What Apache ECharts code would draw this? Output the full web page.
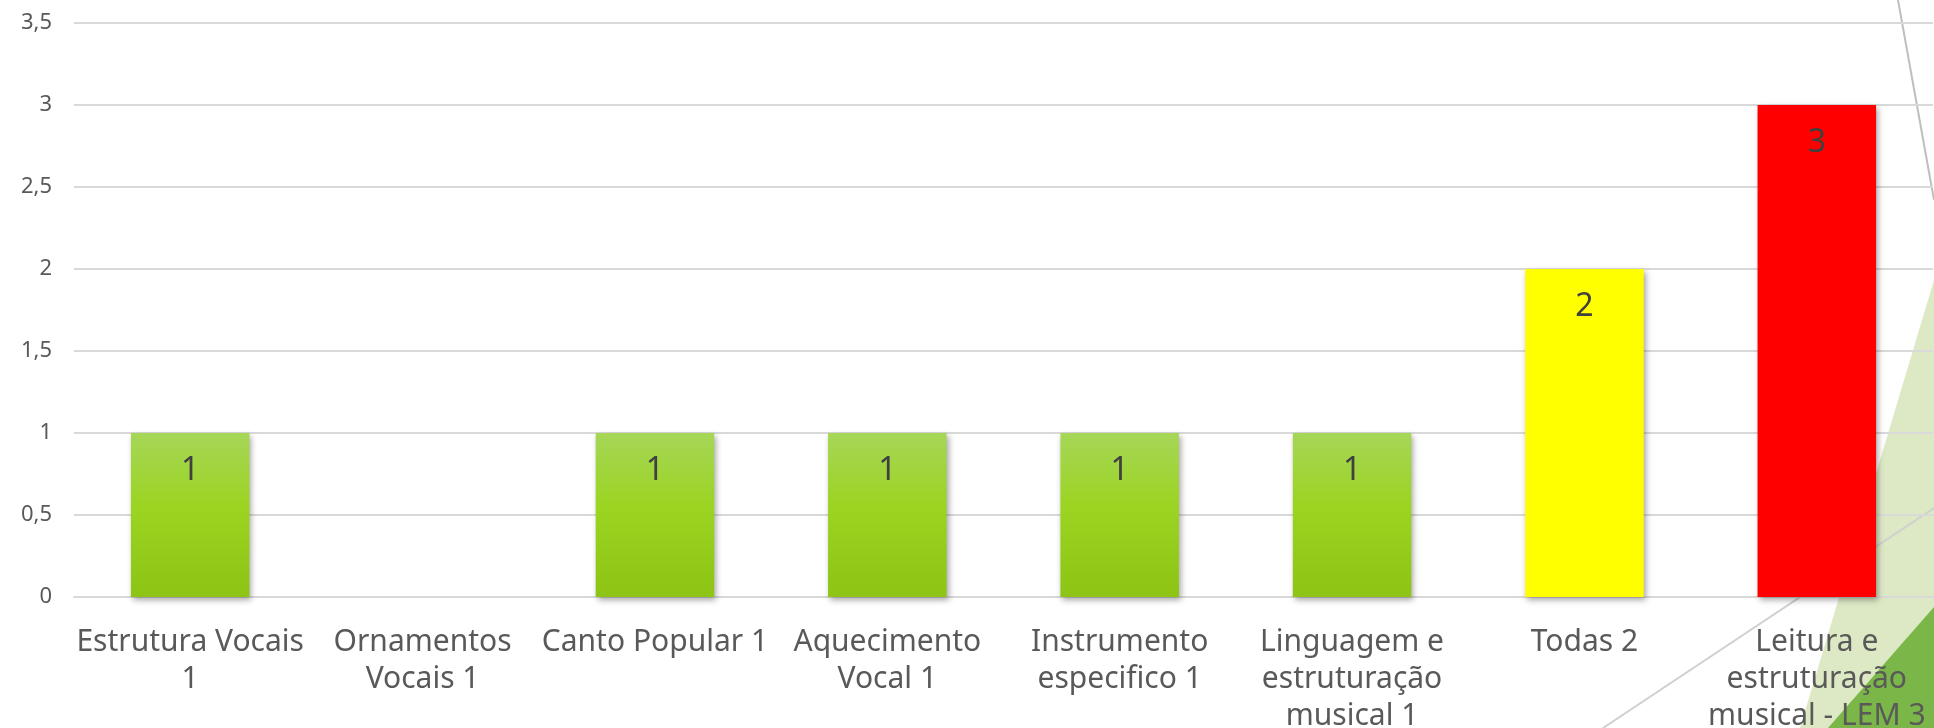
<!DOCTYPE html>
<html>
<head>
<meta charset="utf-8">
<script src="https://cdn.jsdelivr.net/npm/echarts@6/dist/echarts.min.js"></script>
<style>
  html, body { margin: 0; padding: 0; background: #fff; }
  #chart { width: 1934px; height: 728px; }
</style>
</head>
<body>
<div id="chart"></div>
<script>
// categories (line breaks as in the original slide)
const categories = [
  'Estrutura Vocais\n1',
  'Ornamentos\nVocais 1',
  'Canto Popular 1',
  'Aquecimento\nVocal 1',
  'Instrumento\nespecifico 1',
  'Linguagem e\nestruturação\nmusical 1',
  'Todas 2',
  'Leitura e\nestruturação\nmusical - LEM 3'
]
const values = [1, 0, 1, 1, 1, 1, 2, 3]

// y axis ticks
const yMin = 0
const yMax = 3.5
const yStep = 0.5

const font = 'Noto Sans'
const textGray = '#595959'
const gridGray = '#d9d9d9'

const greenFill = new echarts.graphic.LinearGradient(0, 0, 0, 1, [
  { offset: 0, color: '#a6d658' },
  { offset: 0.45, color: '#9bd421' },
  { offset: 1, color: '#8dc415' }
])
// fill per bar: green for most, yellow / red for the last two
const barFills = [greenFill, greenFill, greenFill, greenFill, greenFill, greenFill, '#ffff00', '#ff0000']

const chart = echarts.init(document.getElementById('chart'), null, { renderer: 'canvas' })

chart.setOption({
  animation: false,
  backgroundColor: '#ffffff',
  grid: { left: 74, right: 1, top: 23, bottom: 131, outerBoundsMode: 'none', containLabel: false },
  xAxis: {
    type: 'category',
    data: categories,
    axisLine: { lineStyle: { color: gridGray, width: 2 } },
    axisTick: { show: false },
    axisLabel: {
      interval: 0,
      margin: 27,
      fontFamily: font,
      fontSize: 30,
      lineHeight: 37,
      color: textGray
    }
  },
  yAxis: {
    type: 'value',
    min: yMin,
    max: yMax,
    interval: yStep,
    axisLine: { show: false },
    axisTick: { show: false },
    splitLine: { lineStyle: { color: gridGray, width: 2 } },
    axisLabel: {
      margin: 22,
      fontFamily: font,
      fontSize: 22,
      color: textGray,
      formatter: v => String(v).replace('.', ',')
    }
  },
  graphic: [
    // slide background decoration (theme shapes on the right)
    { type: 'line', z: -10, shape: { x1: 1898, y1: 0, x2: 1934, y2: 200 }, style: { stroke: '#bfbfbf', lineWidth: 2 } },
    { type: 'polygon', z: -10, shape: { points: [[1934, 280], [1934, 728], [1800, 728]] }, style: { fill: '#dde9c5' } },
    { type: 'polygon', z: -9, shape: { points: [[1934, 607], [1934, 728], [1828, 728]] }, style: { fill: '#7ab648' } },
    { type: 'line', z: -9, shape: { x1: 1934, y1: 508, x2: 1603, y2: 728 }, style: { stroke: '#d0d0d0', lineWidth: 2 } }
  ],
  series: [
    {
      type: 'bar',
      barWidth: '51%',
      data: values.map((v, i) => ({ value: v, itemStyle: { color: barFills[i] } })),
      itemStyle: {
        shadowBlur: 6,
        shadowOffsetX: 2,
        shadowOffsetY: 3,
        shadowColor: 'rgba(0,0,0,0.35)'
      },
      label: {
        show: true,
        position: 'insideTop',
        distance: 22,
        fontFamily: font,
        fontSize: 32,
        color: '#404040',
        formatter: p => (p.value ? String(p.value) : '')
      }
    }
  ]
})
</script>
</body>
</html>
